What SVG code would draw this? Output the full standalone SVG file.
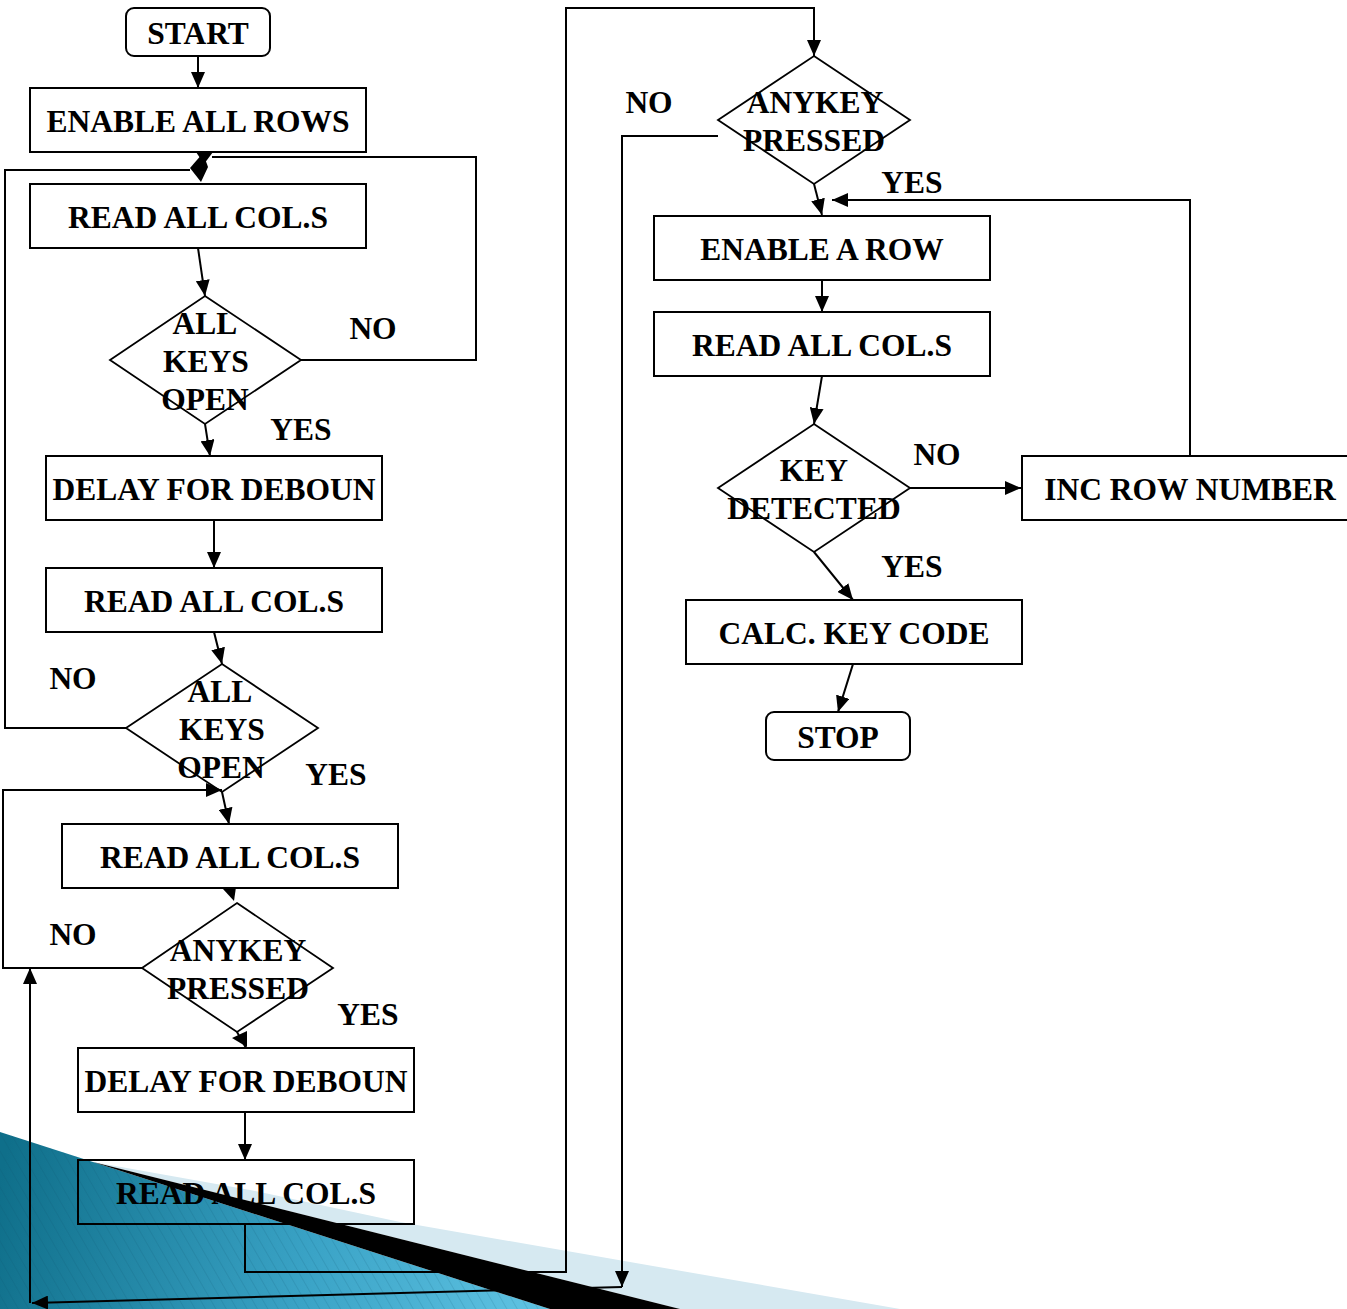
<svg xmlns="http://www.w3.org/2000/svg" width="1347" height="1309" viewBox="0 0 1347 1309">
<style>
.box{fill:none;stroke:#000;stroke-width:2}
.dia{fill:none;stroke:#000;stroke-width:1.8}
.t{font-family:"Liberation Serif","Times New Roman",serif;font-weight:bold;font-size:31.5px;fill:#000;text-anchor:middle}
.c{fill:none;stroke:#000;stroke-width:2}
.ca{fill:none;stroke:#000;stroke-width:2;marker-end:url(#ah)}
</style>
<defs>
<marker id="ah" viewBox="0 0 16 14" refX="16" refY="7" markerWidth="16" markerHeight="14" orient="auto" markerUnits="userSpaceOnUse">
<path d="M0,0 L16,7 L0,14 z" fill="#000"/>
</marker>
<linearGradient id="teal" x1="0" y1="1180" x2="520" y2="1300" gradientUnits="userSpaceOnUse">
<stop offset="0" stop-color="#0f6f8a"/>
<stop offset="0.6" stop-color="#3aa3c6"/>
<stop offset="1" stop-color="#5cc0e0"/>
</linearGradient>
<pattern id="stripes" width="9" height="9" patternUnits="userSpaceOnUse" patternTransform="rotate(-30)">
<line x1="0" y1="0" x2="0" y2="9" stroke="#0a4f66" stroke-width="1.2" stroke-opacity="0.25"/>
</pattern>
</defs>
<g id="decoration">
<polygon points="93,1162 250,1190 400,1222 900,1309 680,1309" fill="#d6e9f1"/>
<polygon points="0,1132 93,1162 550,1309 0,1309" fill="url(#teal)"/>
<polygon points="0,1132 93,1162 550,1309 0,1309" fill="url(#stripes)"/>
<polygon points="93,1162 680,1309 550,1309" fill="#000"/>
</g>
<g id="connectors">
<path class="ca" d="M198,56 V88"/>
<path class="c" d="M301,360 H476 V157 H212"/>
<path class="c" d="M126,728 H5 V170 H190"/>
<polygon points="196,152 213,152 204,164" fill="#000"/>
<polygon points="203,153 190,168 201,182 208,167" fill="#000"/>
<path class="ca" d="M198,248 L205,296"/>
<path class="ca" d="M205,424 L210,456"/>
<path class="ca" d="M214,520 V568"/>
<path class="ca" d="M214,632 L222,664"/>
<path class="ca" d="M222,792 L229,824"/>
<path class="ca" d="M142,968 H3 V790 H222"/>
<polygon points="223,889 236,887 234,901" fill="#000"/>
<path class="c" d="M237,1032 L246,1048"/>
<polygon points="232,1038 247,1031 247,1047" fill="#000"/>
<path class="ca" d="M245,1112 V1160"/>
<path class="ca" d="M245,1224 V1272 H566 V8 H814 V56"/>
<path class="ca" d="M718,136 H622 V1287"/>
<path class="ca" d="M622,1287 L32,1303"/>
<path class="ca" d="M30,1303 V968"/>
<path class="ca" d="M814,184 L822,215"/>
<path class="ca" d="M1190,456 V200 H832"/>
<path class="ca" d="M822,280 V312"/>
<path class="ca" d="M822,376 L814,424"/>
<path class="ca" d="M910,488 H1021"/>
<path class="ca" d="M814,552 L853,600"/>
<path class="ca" d="M853,664 L838,712"/>
</g>
<g id="start"><rect class="box" x="126" y="8" width="144" height="48" rx="8"/><text class="t" x="198" y="44">START</text></g>
<g id="enable-all-rows"><rect class="box" x="30" y="88" width="336" height="64"/><text class="t" x="198" y="131.5">ENABLE ALL ROWS</text></g>
<g id="read1"><rect class="box" x="30" y="184" width="336" height="64"/><text class="t" x="198" y="228">READ ALL COL.S</text></g>
<g id="dec1"><polygon class="dia" points="205,296 301,360 205,424 110,360"/><text class="t" x="205" y="334">ALL</text><text class="t" x="206" y="372">KEYS</text><text class="t" x="205" y="410">OPEN</text></g>
<g id="lbl1"><text class="t" x="373" y="339">NO</text><text class="t" x="301" y="440">YES</text></g>
<g id="delay1"><rect class="box" x="46" y="456" width="336" height="64"/><text class="t" x="214" y="500">DELAY FOR DEBOUN</text></g>
<g id="read2"><rect class="box" x="46" y="568" width="336" height="64"/><text class="t" x="214" y="612">READ ALL COL.S</text></g>
<g id="dec2"><polygon class="dia" points="222,664 318,728 222,792 126,728"/><text class="t" x="220" y="702">ALL</text><text class="t" x="222" y="740">KEYS</text><text class="t" x="221" y="778">OPEN</text></g>
<g id="lbl2"><text class="t" x="73" y="689">NO</text><text class="t" x="336" y="785">YES</text></g>
<g id="read3"><rect class="box" x="62" y="824" width="336" height="64"/><text class="t" x="230" y="868">READ ALL COL.S</text></g>
<g id="dec3"><polygon class="dia" points="237,903 333,968 237,1032 142,968"/><text class="t" x="238" y="961">ANYKEY</text><text class="t" x="238" y="999">PRESSED</text></g>
<g id="lbl3"><text class="t" x="73" y="945">NO</text><text class="t" x="368" y="1025">YES</text></g>
<g id="delay2"><rect class="box" x="78" y="1048" width="336" height="64"/><text class="t" x="246" y="1092">DELAY FOR DEBOUN</text></g>
<g id="read4"><rect class="box" x="78" y="1160" width="336" height="64"/><text class="t" x="246" y="1204">READ ALL COL.S</text></g>
<g id="dec4"><polygon class="dia" points="814,56 910,120 814,184 718,120"/><text class="t" x="815" y="113">ANYKEY</text><text class="t" x="814" y="151">PRESSED</text></g>
<g id="lbl4"><text class="t" x="649" y="113">NO</text><text class="t" x="912" y="193">YES</text></g>
<g id="enable-a-row"><rect class="box" x="654" y="216" width="336" height="64"/><text class="t" x="822" y="260">ENABLE A ROW</text></g>
<g id="read5"><rect class="box" x="654" y="312" width="336" height="64"/><text class="t" x="822" y="356">READ ALL COL.S</text></g>
<g id="dec5"><polygon class="dia" points="814,424 910,488 814,552 718,488"/><text class="t" x="814" y="481">KEY</text><text class="t" x="814" y="519">DETECTED</text></g>
<g id="lbl5"><text class="t" x="937" y="465">NO</text><text class="t" x="912" y="577">YES</text></g>
<g id="inc-row"><rect class="box" x="1022" y="456" width="336" height="64"/><text class="t" x="1190" y="500">INC ROW NUMBER</text></g>
<g id="calc"><rect class="box" x="686" y="600" width="336" height="64"/><text class="t" x="854" y="644">CALC. KEY CODE</text></g>
<g id="stop"><rect class="box" x="766" y="712" width="144" height="48" rx="8"/><text class="t" x="838" y="748">STOP</text></g>
</svg>
